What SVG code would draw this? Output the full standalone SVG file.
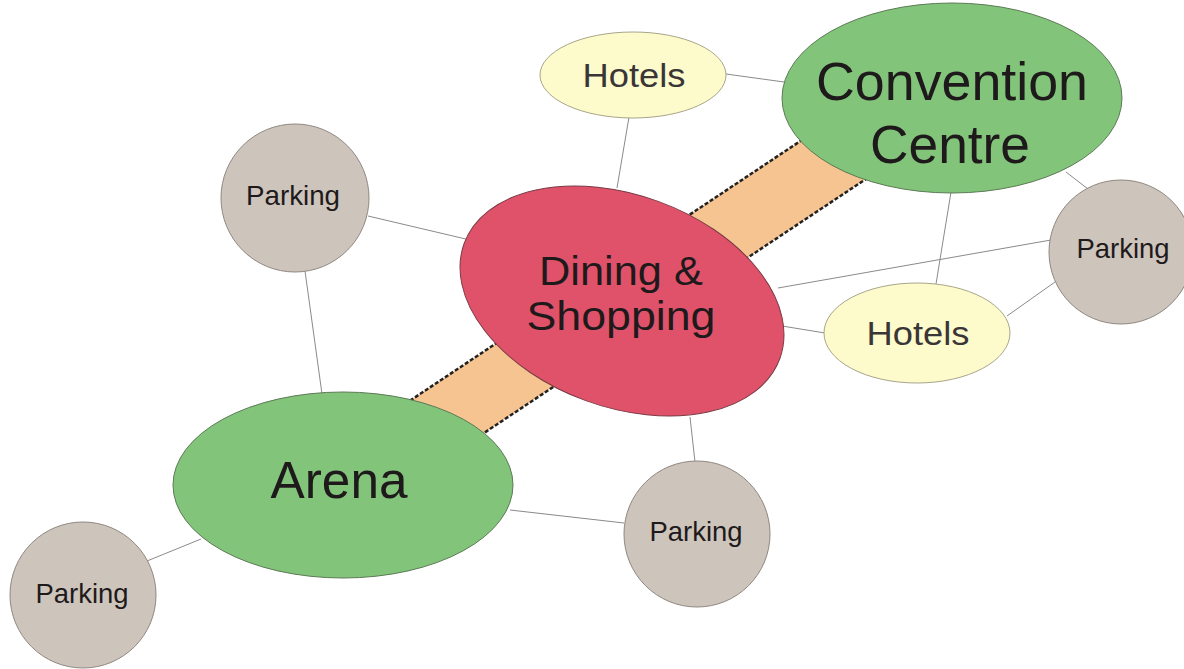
<svg xmlns="http://www.w3.org/2000/svg" width="1184" height="669" viewBox="0 0 1184 669">
<style>
.edge{stroke:#8a8a8a;stroke-width:1;fill:none}
.green{fill:#83c47b;stroke:#5b7a55;stroke-width:1}
.dining{fill:#e0526a;stroke:#7a3a44;stroke-width:1}
.hotel{fill:#fdfbcb;stroke:#a8a58a;stroke-width:1}
.park{fill:#cdc4bc;stroke:#8f8780;stroke-width:1}
text{font-family:"Liberation Sans",Arial,sans-serif;fill:#1e1a1b;text-anchor:middle}
.t-park{font-size:28px}
.t-hotel{font-size:34px;fill:#3a3536}
.band{fill:#f5c490}
.dash{stroke:#222;stroke-width:2.5;stroke-dasharray:4,2;fill:none}
</style>
<rect width="1184" height="669" fill="#ffffff"/>
<g id="connectors">
<polygon class="band" points="380,420.6 900,74.8 950,123.1 430,468.9"/>
<line class="dash" x1="380" y1="420.6" x2="900" y2="74.8"/>
<line class="dash" x1="430" y1="468.9" x2="950" y2="123.1"/>
<line class="edge" x1="629" y1="117" x2="617" y2="188"/>
<line class="edge" x1="726" y1="74" x2="784" y2="82"/>
<line class="edge" x1="368" y1="216" x2="470" y2="240"/>
<line class="edge" x1="305" y1="271" x2="322" y2="394"/>
<line class="edge" x1="951" y1="192" x2="936" y2="284"/>
<line class="edge" x1="1066" y1="172" x2="1088" y2="189"/>
<line class="edge" x1="778" y1="288" x2="1051" y2="240"/>
<line class="edge" x1="782" y1="326" x2="825" y2="333"/>
<line class="edge" x1="1007" y1="316" x2="1055" y2="282"/>
<line class="edge" x1="690" y1="417" x2="695" y2="462"/>
<line class="edge" x1="510" y1="510" x2="624" y2="523"/>
<line class="edge" x1="201" y1="539" x2="147" y2="561"/>
</g>
<g id="convention">
<ellipse class="green" cx="952" cy="98" rx="170" ry="95"/>
<text x="952" y="100" font-size="53" textLength="272" lengthAdjust="spacingAndGlyphs">Convention</text>
<text x="950" y="163" font-size="53" textLength="160" lengthAdjust="spacingAndGlyphs">Centre</text>
</g>
<g id="arena">
<ellipse class="green" cx="343" cy="485" rx="170" ry="93"/>
<text x="339" y="498" font-size="52" textLength="137" lengthAdjust="spacingAndGlyphs">Arena</text>
</g>
<g id="dining">
<ellipse class="dining" cx="622" cy="301" rx="168" ry="106" transform="rotate(20 622 301)"/>
<text x="621" y="285" font-size="40" textLength="164" lengthAdjust="spacingAndGlyphs">Dining &amp;</text>
<text x="621" y="330" font-size="40" textLength="189" lengthAdjust="spacingAndGlyphs">Shopping</text>
</g>
<g id="hotels-top">
<ellipse class="hotel" cx="633" cy="75" rx="93" ry="43"/>
<text class="t-hotel" x="634" y="87" textLength="103" lengthAdjust="spacingAndGlyphs">Hotels</text>
</g>
<g id="hotels-bottom">
<ellipse class="hotel" cx="917" cy="333" rx="93" ry="50"/>
<text class="t-hotel" x="918" y="345" textLength="103" lengthAdjust="spacingAndGlyphs">Hotels</text>
</g>
<g id="parking-tl">
<circle class="park" cx="295" cy="198" r="74"/>
<text class="t-park" x="293" y="205" textLength="94" lengthAdjust="spacingAndGlyphs">Parking</text>
</g>
<g id="parking-right">
<circle class="park" cx="1121" cy="252" r="72"/>
<text class="t-park" x="1123" y="258" textLength="93" lengthAdjust="spacingAndGlyphs">Parking</text>
</g>
<g id="parking-bottom">
<circle class="park" cx="697" cy="534" r="73"/>
<text class="t-park" x="696" y="541" textLength="93" lengthAdjust="spacingAndGlyphs">Parking</text>
</g>
<g id="parking-bl">
<circle class="park" cx="83" cy="595" r="73"/>
<text class="t-park" x="82" y="603" textLength="93" lengthAdjust="spacingAndGlyphs">Parking</text>
</g>
</svg>
